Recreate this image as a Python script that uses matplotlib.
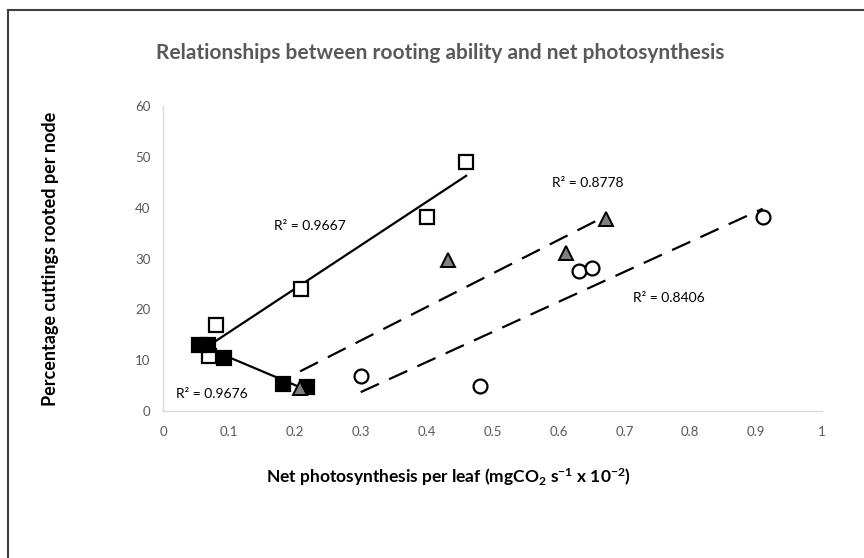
import matplotlib.pyplot as plt
from matplotlib.lines import Line2D
import numpy as np

plt.rcParams['font.family'] = ['Lato', 'DejaVu Sans']
plt.rcParams['mathtext.default'] = 'regular'

# Open squares
open_sq_x = [0.07, 0.08, 0.21, 0.40, 0.46]
open_sq_y = [10.8, 17.0, 24.0, 38.2, 49.0]
# Filled squares
fill_sq_x = [0.054, 0.068, 0.093, 0.182, 0.218]
fill_sq_y = [13.0, 13.0, 10.5, 5.3, 4.8]
# Triangles
tri_x = [0.208, 0.432, 0.611, 0.672]
tri_y = [4.5, 29.8, 31.0, 37.8]
# Circles
circ_x = [0.30, 0.481, 0.631, 0.651, 0.910]
circ_y = [6.9, 4.9, 27.6, 28.1, 38.2]

r2_labels = ['R² = 0.9667', 'R² = 0.9676', 'R² = 0.8778', 'R² = 0.8406']
r2_pos = [(0.223, 36.4), (0.074, 3.3), (0.645, 44.9), (0.768, 22.2)]

fig = plt.figure(figsize=(8.64, 5.58), dpi=100)
ax = fig.add_axes([0.1887, 0.2634, 0.7627, 0.5466])

# frame lines of the chart area (top and left only visible)
fig.add_artist(Line2D([0.0095, 1.0], [1 - 10 / 558, 1 - 10 / 558], transform=fig.transFigure,
                      color='#404040', lw=1.5))
fig.add_artist(Line2D([0.0095, 0.0095], [0.0, 1 - 10 / 558], transform=fig.transFigure,
                      color='#404040', lw=1.5))


def trend(x, y, style):
    k, b = np.polyfit(x, y, 1)
    xs = np.array([min(x), max(x)])
    ax.plot(xs, k * xs + b, color='black', lw=1.6, linestyle=style, zorder=2)


dash = (0, (9, 5))
trend(open_sq_x, open_sq_y, '-')
trend(fill_sq_x, fill_sq_y, '-')
trend(tri_x, tri_y, dash)
trend(circ_x, circ_y, dash)

ax.plot(open_sq_x, open_sq_y, 's', ms=10.5, mfc='white', mec='black', mew=1.6, zorder=3)
ax.plot(fill_sq_x, fill_sq_y, 's', ms=10.5, mfc='black', mec='black', mew=1.6, zorder=3)
ax.plot(tri_x, tri_y, '^', ms=10, mfc='#7f7f7f', mec='black', mew=1.4, zorder=3)
ax.plot(circ_x, circ_y, 'o', ms=10, mfc='white', mec='black', mew=1.6, zorder=3)

for lab, (tx, ty) in zip(r2_labels, r2_pos):
    ax.text(tx, ty, lab, fontsize=10, color='black', ha='center', va='center')

ax.set_xlim(0, 1)
ax.set_ylim(0, 60)
ax.set_xticks(np.arange(0, 1.01, 0.1))
ax.set_xticklabels(['0', '0.1', '0.2', '0.3', '0.4', '0.5', '0.6', '0.7', '0.8', '0.9', '1'])
ax.set_yticks(range(0, 61, 10))
ax.tick_params(length=0, labelsize=9.5, labelcolor='#595959')
ax.tick_params(axis='x', pad=11)
ax.tick_params(axis='y', pad=9)
for s in ['top', 'right']:
    ax.spines[s].set_visible(False)
for s in ['left', 'bottom']:
    ax.spines[s].set_color('#d9d9d9')
    ax.spines[s].set_linewidth(1)

ax.set_xlabel('Net photosynthesis per leaf (mgCO$_2$ s$^{-1}$ x 10$^{-2}$)',
              fontsize=12.5, fontweight='bold')
ax.xaxis.set_label_coords(0.433, -0.18)
ax.set_ylabel('Percentage cuttings rooted per node', fontsize=13, fontweight='bold')
ax.yaxis.set_label_coords(-0.158, 0.5)

fig.text(0.509, 0.905, 'Relationships between rooting ability and net photosynthesis',
         fontsize=15, fontweight='bold', color='#595959', ha='center', va='center')

fig.savefig('out.png', dpi=100)
